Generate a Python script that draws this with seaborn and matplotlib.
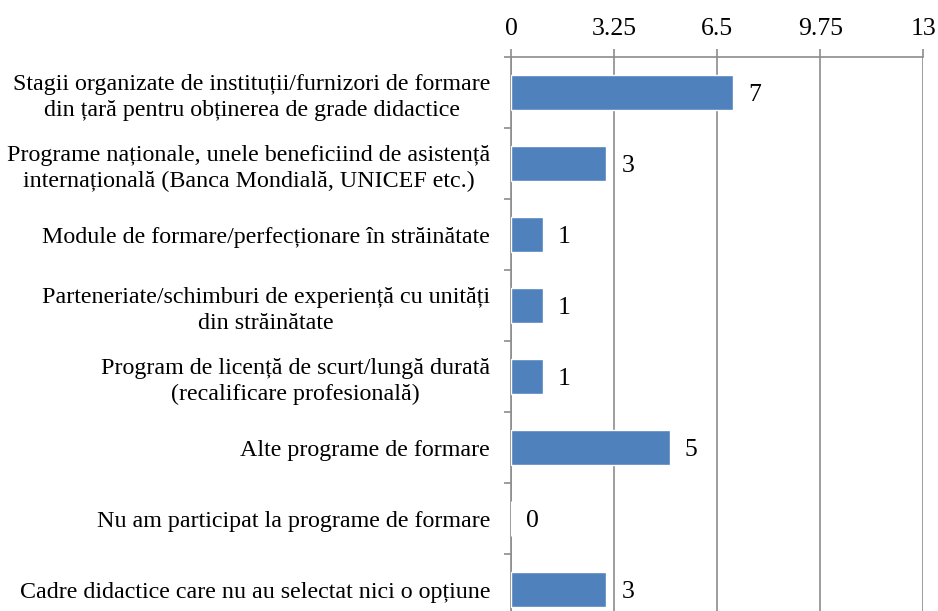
import matplotlib.pyplot as plt
import pandas as pd
import seaborn as sns
from matplotlib.ticker import FixedLocator

# Data
categories = [
    'Stagii organizate de instituții/furnizori de formare\ndin țară pentru obținerea de grade didactice',
    'Programe naționale, unele beneficiind de asistență\ninternațională (Banca Mondială, UNICEF etc.)',
    'Module de formare/perfecționare în străinătate',
    'Parteneriate/schimburi de experiență cu unități\ndin străinătate',
    'Program de licență de scurt/lungă durată\n(recalificare profesională)',
    'Alte programe de formare',
    'Nu am participat la programe de formare',
    'Cadre didactice care nu au selectat nici o opțiune',
]
values = [7, 3, 1, 1, 1, 5, 0, 3]
x_ticks = [0, 3.25, 6.5, 9.75, 13]
x_tick_labels = ['0', '3.25', '6.5', '9.75', '13']

df = pd.DataFrame({'category': categories, 'value': values})

sns.set_style('white')
plt.rcParams['font.family'] = ['Liberation Serif', 'DejaVu Serif']
plt.rcParams['text.color'] = 'black'

fs = 17.3
fs_num = 18.5
grid_c = '#8c8c8c'

fig = plt.figure(figsize=(9.38, 6.11), dpi=100)
ax = fig.add_axes([0.5448, 0.0, 0.4395, 0.9067])

sns.barplot(x='value', y='category', data=df, ax=ax, color='#4F81BD',
            width=0.5, orient='h', saturation=1, zorder=3)

ax.set_xlim(0, 13)
ax.set_ylim(7.3, -0.5)
ax.set_xticks(x_ticks)
ax.set_xticklabels(x_tick_labels, fontsize=fs_num)
ax.xaxis.tick_top()
ax.tick_params(axis='x', length=6, width=1.2, color=grid_c, pad=6, labelcolor='black')
ax.grid(axis='x', color=grid_c, linewidth=1.2, zorder=0)

ax.set_yticks(range(len(categories)))
ax.set_yticklabels(categories, fontsize=fs, multialignment='center', linespacing=1.3)
ax.tick_params(axis='y', length=0, pad=15, labelcolor='black')
ax.yaxis.set_minor_locator(FixedLocator([i - 0.5 for i in range(len(categories) + 1)]))
ax.tick_params(axis='y', which='minor', length=5, color=grid_c, width=1.2, left=True)

ax.set_xlabel('')
ax.set_ylabel('')
for side in ['right', 'bottom']:
    ax.spines[side].set_visible(False)
for side in ['top', 'left']:
    ax.spines[side].set_color(grid_c)
    ax.spines[side].set_linewidth(1.2)

# value labels
for i, v in enumerate(values):
    ax.annotate(str(v), (v, i), xytext=(11, -2), textcoords='offset points',
                ha='left', va='center', fontsize=fs_num, color='black')

fig.savefig('out.png', dpi=100)
